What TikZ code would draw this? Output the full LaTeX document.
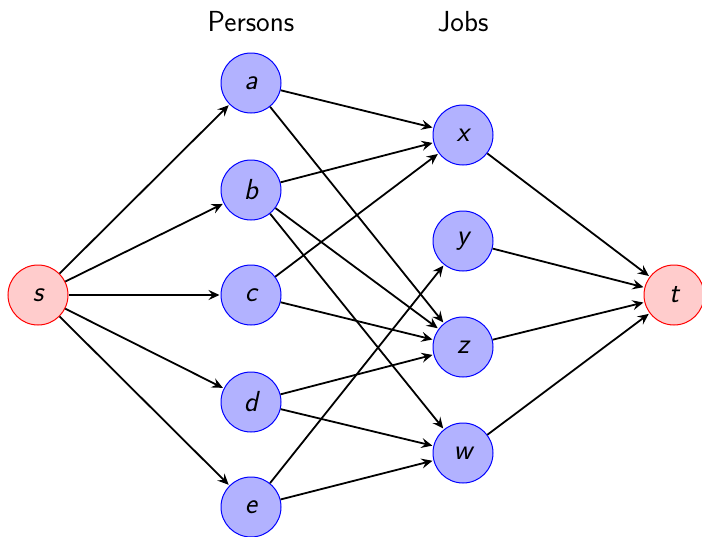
\documentclass[tikz,border=0pt]{standalone}
\usetikzlibrary{arrows.meta}
\begin{document}
\begin{tikzpicture}[x=1pt,y=-1pt,
  every node/.style={font=\fontsize{29}{34}\selectfont\sffamily},
  pnode/.style={circle,draw=blue,fill=blue!30,line width=1pt,minimum size=60pt,inner sep=0pt,font=\fontsize{29}{34}\selectfont\sffamily\itshape},
  endnode/.style={circle,draw=red,fill=red!20,line width=1pt,minimum size=60pt,inner sep=0pt,font=\fontsize{29}{34}\selectfont\sffamily\itshape},
  edge/.style={line width=1.8pt,-{Stealth[length=11pt,width=10pt,inset=4pt]},shorten >=1pt}]
\useasboundingbox (0,0) rectangle (702,536);
\node (ps) at (251,22) {Persons};
\node (jb) at (463,22) {Jobs};
\node[endnode] (s) at (38,295) {s};
\node[pnode] (a) at (251,83) {a};
\node[pnode] (b) at (251,190) {b};
\node[pnode] (c) at (251,295) {c};
\node[pnode] (d) at (251,402) {d};
\node[pnode] (e) at (251,507) {e};
\node[pnode] (x) at (463,135) {x};
\node[pnode] (y) at (463,241) {y};
\node[pnode] (z) at (463,347) {z};
\node[pnode] (w) at (463,453) {w};
\node[endnode] (t) at (674,295) {t};
\foreach \p in {a,b,c,d,e} \draw[edge] (s) -- (\p);
\draw[edge] (a) -- (x);
\draw[edge] (a) -- (z);
\draw[edge] (b) -- (x);
\draw[edge] (b) -- (z);
\draw[edge] (b) -- (w);
\draw[edge] (c) -- (x);
\draw[edge] (c) -- (z);
\draw[edge] (d) -- (z);
\draw[edge] (d) -- (w);
\draw[edge] (e) -- (y);
\draw[edge] (e) -- (w);
\foreach \j in {x,y,z,w} \draw[edge] (\j) -- (t);
\end{tikzpicture}
\end{document}
